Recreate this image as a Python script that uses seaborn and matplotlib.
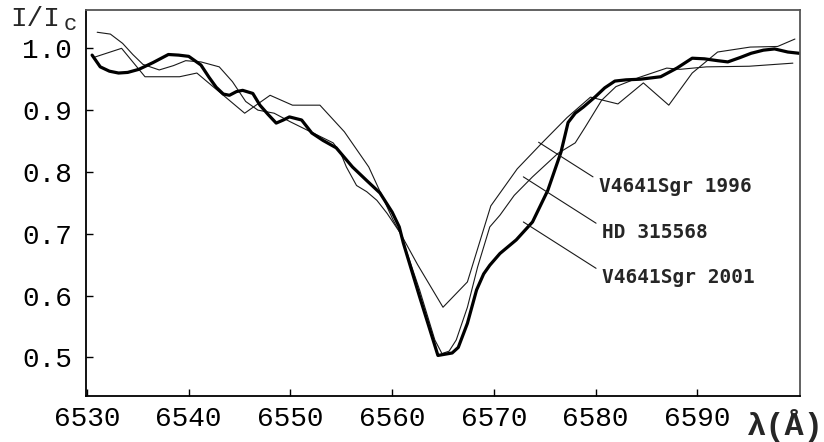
import matplotlib
matplotlib.use("Agg")
import matplotlib.pyplot as plt
import seaborn as sns
import pandas as pd

# V4641 Sgr 2001 (thick)
wl_2001 = [6530.5, 6531.3, 6532.2, 6533.1, 6534.0, 6535.1, 6536.5, 6538.0, 6539.0, 6540.0,
           6541.2, 6542.0, 6542.7, 6543.4, 6544.0, 6544.7, 6545.3, 6546.3, 6547.0, 6547.8,
           6548.6, 6549.3, 6549.9, 6551.1, 6552.1, 6553.2, 6554.5, 6556.1, 6557.5, 6558.8,
           6560.0, 6560.7, 6561.1, 6562.7, 6564.5, 6565.2, 6565.9, 6566.5, 6567.4, 6568.3,
           6569.0, 6569.6, 6570.6, 6572.2, 6573.8, 6575.3, 6576.6, 6577.3, 6578.0, 6578.8,
           6580.0, 6580.9, 6581.9, 6583.0, 6584.4, 6586.4, 6588.0, 6589.5, 6590.7, 6592.0,
           6593.0, 6594.2, 6595.3, 6596.5, 6597.6, 6598.9, 6600.0]
fl_2001 = [0.989, 0.970, 0.963, 0.960, 0.961, 0.966, 0.977, 0.990, 0.989, 0.987,
           0.973, 0.953, 0.937, 0.926, 0.924, 0.930, 0.932, 0.927, 0.908, 0.893,
           0.879, 0.884, 0.889, 0.884, 0.863, 0.851, 0.839, 0.808, 0.786, 0.766,
           0.735, 0.711, 0.685, 0.598, 0.503, 0.505, 0.507, 0.516, 0.555, 0.609,
           0.635, 0.649, 0.668, 0.690, 0.719, 0.770, 0.832, 0.880, 0.895, 0.905,
           0.922, 0.936, 0.947, 0.949, 0.950, 0.954, 0.968, 0.984, 0.983, 0.980,
           0.978, 0.985, 0.992, 0.997, 0.999, 0.994, 0.992]

# V4641 Sgr 1996 (coarse thin)
wl_1996 = [6530.8, 6533.4, 6535.7, 6539.1, 6540.8, 6545.5, 6548.0, 6550.2, 6552.9, 6555.3,
           6557.7, 6560.1, 6562.5, 6565.0, 6567.4, 6569.7, 6572.3, 6574.8, 6577.2, 6579.5,
           6582.2, 6584.7, 6587.2, 6589.5, 6592.0, 6595.2, 6597.9, 6599.6]
fl_1996 = [0.986, 1.000, 0.954, 0.954, 0.960, 0.895, 0.924, 0.908, 0.908, 0.865,
           0.808, 0.722, 0.650, 0.581, 0.622, 0.745, 0.805, 0.848, 0.888, 0.921,
           0.910, 0.944, 0.908, 0.960, 0.994, 1.002, 1.003, 1.015]

# HD 315568 (smooth thin)
wl_hd = [6531.0, 6532.3, 6533.5, 6534.5, 6535.5, 6537.1, 6538.5, 6539.7, 6541.2, 6543.0,
         6544.3, 6545.6, 6546.8, 6548.4, 6550.0, 6551.6, 6552.6, 6554.2, 6554.9, 6555.5,
         6556.5, 6557.5, 6558.5, 6559.5, 6560.8, 6562.7, 6564.2, 6564.9, 6565.6, 6566.3,
         6567.4, 6568.4, 6569.6, 6570.6, 6572.0, 6573.8, 6576.3, 6578.0, 6579.0, 6580.6,
         6582.0, 6584.3, 6587.0, 6588.3, 6590.9, 6595.1, 6599.4]
fl_hd = [1.026, 1.023, 1.008, 0.990, 0.974, 0.965, 0.972, 0.980, 0.978, 0.970,
         0.946, 0.914, 0.900, 0.895, 0.881, 0.868, 0.860, 0.847, 0.832, 0.808,
         0.778, 0.768, 0.754, 0.733, 0.701, 0.609, 0.528, 0.506, 0.510, 0.528,
         0.581, 0.646, 0.711, 0.730, 0.762, 0.792, 0.830, 0.847, 0.873, 0.916,
         0.938, 0.953, 0.968, 0.966, 0.970, 0.971, 0.976]

x_ticks = [6530, 6540, 6550, 6560, 6570, 6580, 6590]
y_ticks = [0.5, 0.6, 0.7, 0.8, 0.9, 1.0]
labels = ["V4641Sgr 1996", "HD 315568", "V4641Sgr 2001"]
# anchor points on curves (data) and label positions (data)
anchor_xy = [(6574.4, 0.848), (6572.9, 0.792), (6572.9, 0.719)]
label_xy = [(6580.3, 0.777), (6580.6, 0.702), (6580.6, 0.629)]

sns.set_style("ticks")
mono = ["Liberation Mono", "DejaVu Sans Mono"]
plt.rcParams["font.family"] = mono

fig = plt.figure(figsize=(8.24, 4.42), dpi=100)
ax = fig.add_axes([86 / 824, 46 / 442, 714 / 824, 386 / 442])

df01 = pd.DataFrame({"wl": wl_2001, "fl": fl_2001})
df96 = pd.DataFrame({"wl": wl_1996, "fl": fl_1996})
dfhd = pd.DataFrame({"wl": wl_hd, "fl": fl_hd})
sns.lineplot(data=df96, x="wl", y="fl", ax=ax, color="#1a1a1a", lw=0.8, estimator=None, sort=False)
sns.lineplot(data=dfhd, x="wl", y="fl", ax=ax, color="#1a1a1a", lw=0.8, estimator=None, sort=False)
sns.lineplot(data=df01, x="wl", y="fl", ax=ax, color="black", lw=2.3, estimator=None, sort=False)

ax.set_xlim(6529.9, 6600.1)
ax.set_ylim(0.4374, 1.062)
ax.set_xticks(x_ticks)
ax.set_yticks(y_ticks)
ax.set_xticklabels([str(t) for t in x_ticks])
ax.set_yticklabels([f"{t:.1f}" for t in y_ticks])
ax.set_xlabel("")
ax.set_ylabel("")
ax.tick_params(direction="in", length=5, width=1, colors="black", labelsize=20)
ax.tick_params(axis="x", pad=7)
ax.tick_params(axis="y", pad=10)
for s in ["left", "bottom"]:
    ax.spines[s].set_color("black")
    ax.spines[s].set_linewidth(1.3)
for s in ["top", "right"]:
    ax.spines[s].set_visible(True)
    ax.spines[s].set_color("#555555")
    ax.spines[s].set_linewidth(1.3)

for lab, a, t in zip(labels, anchor_xy, label_xy):
    ax.annotate(lab, xy=a, xytext=t, textcoords="data", fontsize=14,
                family=["DejaVu Sans Mono"], fontweight="bold", va="center", ha="left",
                arrowprops=dict(arrowstyle="-", lw=0.8, color="#1a1a1a",
                                shrinkA=2, shrinkB=0, relpos=(0, 0.8)))

fig.text(10 / 824, 1 - 26 / 442, "I/I", fontsize=20, family=mono, va="baseline", ha="left")
fig.text(64 / 824, 1 - 30 / 442, "c", fontsize=16, family=mono, va="baseline", ha="left")
fig.text(747 / 824, 1 - 426 / 442, "λ(Å)", fontsize=23, family=mono, fontweight="bold",
         va="center", ha="left")

fig.savefig("out.png", dpi=100, facecolor="white")
